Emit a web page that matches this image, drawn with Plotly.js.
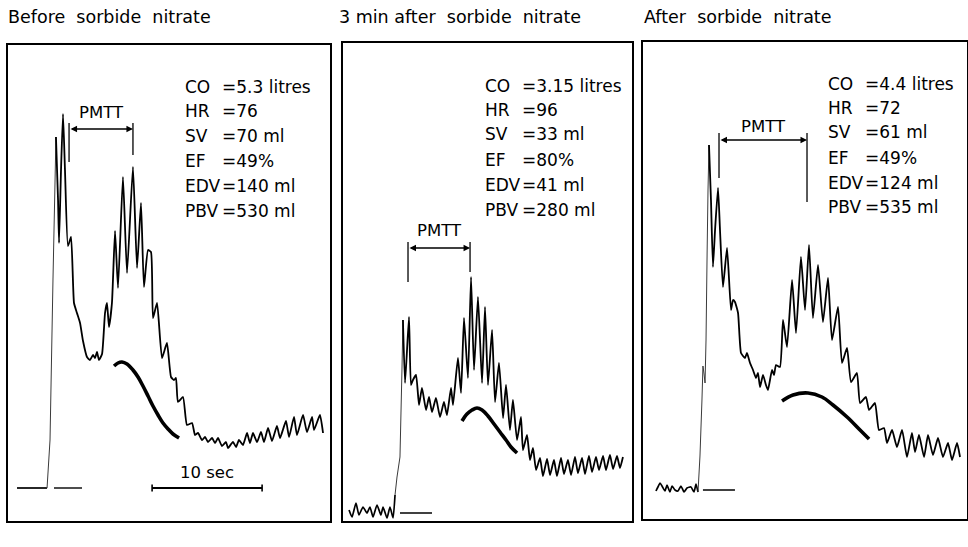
<!DOCTYPE html>
<html>
<head>
<meta charset="utf-8">
<script src="https://cdn.plot.ly/plotly-3.0.1.min.js"></script>
<style>html,body{margin:0;padding:0;background:#fff;}#chart{width:968px;height:547px;}</style>
</head>
<body>
<div id="chart"></div>
<script>
// ---------- DATA (time in seconds, activity in arbitrary count units) ----------
const panelTitles = ['Before\u00a0 sorbide\u00a0 nitrate', '3 min after\u00a0 sorbide\u00a0 nitrate', 'After\u00a0 sorbide\u00a0 nitrate'];
const statLabels = ['CO', 'HR', 'SV', 'EF', 'EDV', 'PBV'];
const p1Stats = ['=5.3 litres', '=76', '=70 ml', '=49%', '=140 ml', '=530 ml'];
const p2Stats = ['=3.15 litres', '=96', '=33 ml', '=80%', '=41 ml', '=280 ml'];
const p3Stats = ['=4.4 litres', '=72', '=61 ml', '=49%', '=124 ml', '=535 ml'];

// Panel 1 : before sorbide nitrate
const p1BaseT = [0.82, 3.55];
const p1BaseC = [10.6, 10.6];
const p1RiseT = [3.55, 3.82, 4.09, 4.36];
const p1RiseC = [10.6, 20.2, 52.4, 80.8];
const p1T = [4.36,4.55,4.64,4.82,5.00,5.18,5.45,5.73,6.00,6.27,6.55,6.82,7.18,7.45,7.73,7.91,8.09,8.27,8.55,8.82,9.00,9.18,9.45,9.73,10.00,10.45,10.82,11.36,11.73,12.09,12.36,12.73,13.00,13.18,13.55,14.00,14.45,14.82,15.09,15.27,15.45,15.91,16.27,16.73,17.00,17.27,17.64,17.91,18.18,18.55,18.82,19.09,19.45,19.82,20.00,20.45,20.73,21.00,21.36,21.73,22.00,22.27,22.64,23.00,23.27,23.64,24.00,24.45,24.73,25.27,25.55,26.00,26.27,26.82,27.18,27.64,27.82,28.36,28.64];
const p1C = [80.8,68.2,59.6,74.2,85.4,74.2,59.0,60.8,47.6,45.6,43.6,40.0,36.8,36.2,37.2,36.6,37.8,36.2,37.4,45.6,47.6,42.8,47.6,62.0,50.6,72.8,53.6,74.8,54.6,67.6,50.8,58.2,57.8,44.6,47.6,36.6,39.6,32.8,32.2,32.6,27.8,28.8,23.2,23.6,21.2,21.6,20.2,20.8,19.8,20.6,19.6,20.6,19.0,19.8,18.6,19.8,18.8,20.2,19.2,21.6,19.6,21.6,19.8,21.8,19.8,22.6,20.0,23.0,20.6,24.0,20.8,24.8,21.2,25.2,21.8,24.8,22.2,25.2,21.6];
const p1SmoothT = [9.64,10.00,10.36,10.82,11.36,11.82,12.27,12.73,13.18,13.64,14.09,14.55,15.00,15.55];
const p1SmoothC = [35.0,35.6,35.8,35.4,34.2,32.8,31.0,29.0,27.0,25.2,23.6,22.4,21.4,20.6];
const p1BackgroundT = [4.18, 6.73];
const p1BackgroundC = [10.6, 10.6];

// Panel 2 : 3 min after sorbide nitrate
const p2BaseT = [0.55,0.82,1.18,1.45,1.82,2.18,2.45,2.73,3.09,3.45,3.64,4.00,4.27,4.55,4.73];
const p2BaseC = [6.2,4.8,7.6,5.2,6.8,5.6,6.8,4.8,7.2,5.2,6.8,4.6,6.8,4.6,9.2];
const p2RiseT = [4.73,4.91,5.18,5.27,5.36,5.45];
const p2RiseC = [9.2,12.8,16.8,25.6,34.2,44.2];
const p2T = [5.45,5.64,6.00,6.18,6.36,6.64,6.91,7.18,7.55,7.82,8.09,8.45,8.82,9.18,9.45,9.82,10.00,10.45,10.73,11.00,11.36,11.64,11.91,12.27,12.64,12.91,13.18,13.55,13.82,14.18,14.55,14.82,15.18,15.45,15.82,16.18,16.36,16.73,17.00,17.27,17.55,17.91,18.18,18.55,18.82,19.18,19.45,19.82,20.09,20.45,20.73,21.09,21.36,21.73,22.00,22.36,22.64,23.00,23.27,23.64,23.91,24.27,24.55,24.91,25.18,25.45];
const p2C = [44.2,31.6,44.8,31.2,32.2,33.2,27.2,30.6,26.2,28.8,25.8,28.6,24.8,27.8,25.2,30.6,27.2,36.6,29.6,44.6,32.6,52.8,34.2,48.8,31.6,46.8,31.2,42.2,27.8,35.6,24.6,31.2,22.2,28.2,20.2,24.8,18.2,21.2,16.2,18.6,14.2,16.6,13.0,16.4,13.2,16.2,13.0,16.6,13.4,16.2,13.2,16.8,13.6,16.6,13.4,17.0,13.8,16.8,14.2,17.0,14.2,17.2,14.4,17.0,14.6,16.8];
const p2SmoothT = [10.82,11.27,11.73,12.18,12.64,13.18,13.73,14.27,14.82,15.27,15.82];
const p2SmoothC = [24.0,25.4,26.2,26.6,26.2,25.0,23.4,21.8,20.2,18.8,17.6];
const p2BackgroundT = [5.18, 8.09];
const p2BackgroundC = [5.6, 5.6];

// Panel 3 : after sorbide nitrate
const p3BaseT = [1.18,1.36,1.55,1.73,2.00,2.18,2.45,2.64,2.91,3.18,3.45,3.73,4.00,4.36,4.64,4.82,5.00];
const p3BaseC = [10.0,10.8,11.6,11.0,10.0,11.2,9.8,11.0,10.2,10.0,11.0,9.8,10.6,10.8,9.8,11.4,9.8];
const p3RiseT = [5.00,5.18,5.36,5.45,5.55,5.64,5.73,5.82,5.91,6.00];
const p3RiseC = [9.8,17.0,28.2,35.0,33.4,31.6,40.2,56.2,70.2,79.2];
const p3T = [6.00,6.18,6.36,6.55,6.82,7.00,7.27,7.64,8.00,8.18,8.36,8.64,8.91,9.27,9.45,9.73,10.00,10.27,10.45,10.64,10.91,11.18,11.36,11.73,11.91,12.09,12.45,12.73,13.09,13.55,13.91,14.36,14.73,15.09,15.45,15.91,16.36,16.82,17.18,17.73,18.09,18.55,18.91,19.45,19.73,20.27,20.55,21.09,21.45,21.91,22.18,22.64,23.09,23.55,24.00,24.45,24.73,25.09,25.55,25.91,26.36,26.82,27.27,27.73,28.09,28.55,28.82];
const p3C = [79.2,68.2,54.8,62.2,70.6,62.2,50.8,58.6,46.2,48.2,47.8,45.6,37.6,36.6,37.6,35.6,34.2,32.6,33.6,30.8,33.2,31.2,30.2,34.2,33.2,35.2,34.8,44.2,38.8,52.2,41.6,56.8,46.2,59.2,44.6,55.2,43.8,52.6,40.2,46.8,35.6,38.6,31.8,33.6,27.6,28.8,26.2,27.6,22.2,22.6,19.6,22.2,18.8,22.2,16.8,21.6,17.8,21.2,16.8,21.2,17.2,20.6,16.8,19.6,16.2,19.6,16.8];
const p3SmoothT = [12.64,13.64,15.00,16.27,17.27,18.55,19.73,20.55];
const p3SmoothC = [28.0,29.2,29.6,28.8,27.2,24.8,22.2,20.4];
const p3BackgroundT = [5.45, 8.36];
const p3BackgroundC = [10.2, 10.2];

// PMTT markers (panels 1..3)
const pmttStart = [5.55, 5.91, 6.91];
const pmttEnd = [11.36, 11.55, 14.91];
const pmttLevel = [82.4, 58.6, 80.2];
const pmttTop = [83.6, 59.8, 81.6];
const pmttStartLow = [75.8, 51.8, 72.6];
const pmttEndLow = [77.2, 53.8, 67.8];
const pmttLabelLevel = [85.6, 62.0, 83.0];

// 10 second scale bar (panel 1)
const scaleBarStart = 13.1;
const scaleBarSeconds = 10;
const scaleBarLevel = 10.6;

// ---------- LAYOUT ----------
const W = 968, H = 547;
const panels = [
  {left: 8, right: 330, top: 45, bottom: 521},
  {left: 343, right: 632, top: 43, bottom: 521},
  {left: 643, right: 967, top: 42, bottom: 519}
];
const PX_PER_SEC = 11, PX_PER_COUNT = 5, REF_BOTTOM = 541;
const px = v => v / W;
const py = v => 1 - v / H;

const ink = '#000000';
const traces = [];
function line(t, c, k, width, color, shape, smoothing) {
  const ax = k === 0 ? '' : String(k + 1);
  const ln = {color: color || ink, width: width, shape: shape || 'linear', simplify: false};
  if (shape === 'spline') ln.smoothing = smoothing;
  traces.push({type: 'scatter', mode: 'lines', x: t, y: c, xaxis: 'x' + ax, yaxis: 'y' + ax,
    line: ln, hoverinfo: 'skip', showlegend: false});
}
const data = [
  [p1BaseT, p1BaseC, p1RiseT, p1RiseC, p1T, p1C, p1SmoothT, p1SmoothC, p1BackgroundT, p1BackgroundC],
  [p2BaseT, p2BaseC, p2RiseT, p2RiseC, p2T, p2C, p2SmoothT, p2SmoothC, p2BackgroundT, p2BackgroundC],
  [p3BaseT, p3BaseC, p3RiseT, p3RiseC, p3T, p3C, p3SmoothT, p3SmoothC, p3BackgroundT, p3BackgroundC]
];
data.forEach((d, k) => {
  line(d[0], d[1], k, 1.7, ink, k === 0 ? 'linear' : 'spline', 0.5);
  line(d[2], d[3], k, 1.0, '#3a3a3a');
  line(d[4], d[5], k, 1.8, ink, 'spline', 0.45);
  line(d[6], d[7], k, 3.6, ink, 'spline', 1);
  line(d[8], d[9], k, 1.4);
});
// scale bar with end ticks
const sbEnd = scaleBarStart + scaleBarSeconds;
line([scaleBarStart, sbEnd], [scaleBarLevel, scaleBarLevel], 0, 1.8);
line([scaleBarStart, scaleBarStart], [scaleBarLevel - 0.7, scaleBarLevel + 0.7], 0, 1.6);
line([sbEnd, sbEnd], [scaleBarLevel - 0.7, scaleBarLevel + 0.7], 0, 1.6);

const layout = {
  width: W, height: H, margin: {l: 0, r: 0, t: 0, b: 0},
  paper_bgcolor: '#fff', plot_bgcolor: '#fff', showlegend: false,
  font: {family: 'DejaVu Sans, sans-serif', color: ink},
  annotations: [], shapes: []
};
const axisBase = {showgrid: false, zeroline: false, showticklabels: false, ticks: '',
  showline: true, mirror: true, linecolor: ink, linewidth: 1.6, fixedrange: true};
const statsRows = [[87, 111, 136, 161, 186, 211], [86, 110, 134, 160, 185, 210], [84, 108, 132, 158, 183, 207]];
const statsX = [[183, 220], [483, 520], [826, 863]];
const statsVals = [p1Stats, p2Stats, p3Stats];
const titleX = [6, 337, 642];

panels.forEach((p, k) => {
  const s = k === 0 ? '' : String(k + 1);
  layout['xaxis' + s] = Object.assign({}, axisBase, {
    domain: [px(p.left), px(p.right)], range: [0, (p.right - p.left) / PX_PER_SEC], anchor: 'y' + s});
  layout['yaxis' + s] = Object.assign({}, axisBase, {
    domain: [1 - p.bottom / H, 1 - p.top / H],
    range: [(REF_BOTTOM - p.bottom) / PX_PER_COUNT, (REF_BOTTOM - p.top) / PX_PER_COUNT], anchor: 'x' + s});
  layout.annotations.push({text: panelTitles[k], xref: 'paper', yref: 'paper', x: px(titleX[k]), y: py(17),
    xanchor: 'left', yanchor: 'middle', showarrow: false, font: {size: 17.5, color: ink}});
  statLabels.forEach((lab, i) => {
    layout.annotations.push({text: lab, xref: 'paper', yref: 'paper', x: px(statsX[k][0]), y: py(statsRows[k][i]),
      xanchor: 'left', yanchor: 'middle', showarrow: false, font: {size: 17, color: ink}});
    layout.annotations.push({text: statsVals[k][i], xref: 'paper', yref: 'paper', x: px(statsX[k][1]), y: py(statsRows[k][i]),
      xanchor: 'left', yanchor: 'middle', showarrow: false, font: {size: 17, color: ink}});
  });
  const xr = 'x' + s, yr = 'y' + s;
  layout.annotations.push({text: '', x: pmttEnd[k], y: pmttLevel[k], ax: pmttStart[k], ay: pmttLevel[k],
    xref: xr, yref: yr, axref: xr, ayref: yr, showarrow: true, arrowside: 'end+start', arrowhead: 2,
    arrowsize: 1, arrowwidth: 1.3, arrowcolor: ink, standoff: 0, startstandoff: 0});
  layout.annotations.push({text: 'PMTT', x: (pmttStart[k] + pmttEnd[k]) / 2, y: pmttLabelLevel[k], xref: xr, yref: yr,
    showarrow: false, xanchor: 'center', yanchor: 'middle', font: {size: 16.5, color: ink}});
  layout.shapes.push({type: 'line', xref: xr, yref: yr, x0: pmttStart[k], x1: pmttStart[k], y0: pmttTop[k], y1: pmttStartLow[k],
    line: {color: ink, width: 1.3}});
  layout.shapes.push({type: 'line', xref: xr, yref: yr, x0: pmttEnd[k], x1: pmttEnd[k], y0: pmttTop[k], y1: pmttEndLow[k],
    line: {color: ink, width: 1.3}});
});
layout.annotations.push({text: '10 sec', x: scaleBarStart + scaleBarSeconds / 2, y: scaleBarLevel + 0.9, xref: 'x', yref: 'y',
  showarrow: false, xanchor: 'center', yanchor: 'bottom', font: {size: 16.5, color: ink}});

Plotly.newPlot('chart', traces, layout, {staticPlot: true, displayModeBar: false});
</script>
</body>
</html>
